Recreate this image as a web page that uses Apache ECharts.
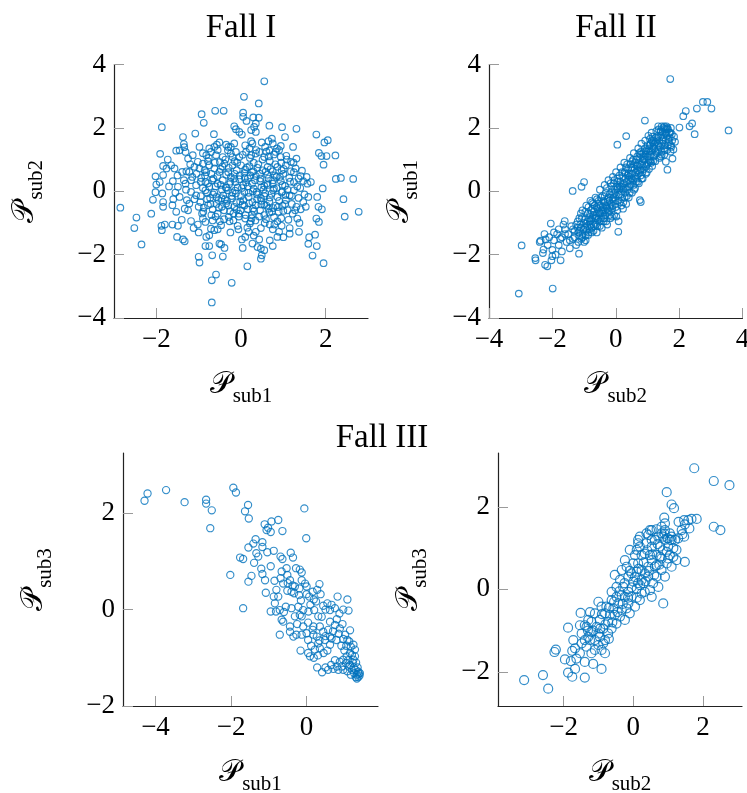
<!DOCTYPE html>
<html>
<head>
<meta charset="utf-8">
<script src="https://cdn.jsdelivr.net/npm/echarts@6/dist/echarts.min.js"></script>
<style>
  html, body { margin: 0; padding: 0; background: #fff; }
  #chart { width: 747px; height: 793px; }
</style>
</head>
<body>
<div id="chart"></div>
<script>
// Fall I: (P_sub1, P_sub2)
const fall1 = [
  [0.55,3.47],[0.07,2.98],[0.42,2.77],
  [-0.61,2.54],[-0.41,2.54],[-0.93,2.43],[0.05,2.48],[0.05,2.35],[0.29,2.33],[0.42,2.32],[-0.88,2.16],[0.13,2.22],[0.35,2.14],[0.31,2.03],
  [-1.87,2.02],[0.67,2.07],[0.97,2.02],[1.31,1.97],[-0.16,2.05],[-0.12,1.96],[-0.04,1.87],[0.02,1.79],[0.24,1.93],[0.35,1.87],[-0.64,1.8],[-1.08,1.82],[-1.37,1.71],[1.78,1.79],[1.04,1.71],[0.73,1.66],[0.65,1.58],
  [-0.51,1.54],[-0.57,1.47],[-0.63,1.4],[-0.35,1.47],[-0.24,1.4],[-0.16,1.51],[0.24,1.58],[0.27,1.51],[0.49,1.54],[0.57,1.4],[0.75,1.51],[0.94,1.43],[1.23,1.4],[-1.35,1.49],[-1.34,1.39],[-0.98,1.4],[-0.75,1.35],[1.97,1.54],[2.05,1.61],[-1.53,1.28],[-1.45,1.29],
  [-1.91,1.18],[-1.73,1.0],[-1.31,1.24],[-1.25,1.03],[-1.14,1.14],[-1.02,0.93],[-0.9,0.87],[-0.82,1.14],[-0.71,1.24],[-0.59,1.14],[-0.43,1.08],[-0.31,1.29],[-0.24,1.19],[-0.12,1.24],[-0.04,1.08],[0.12,1.24],[0.24,1.14],[0.35,1.19],[0.43,1.24],[0.55,1.08],[0.67,1.29],[0.78,1.16],[0.82,1.24],[0.94,1.08],[1.07,1.12],[1.18,0.93],[1.31,1.03],[1.84,1.21],[1.9,1.11],[2.02,1.11],[2.23,1.13],
  [-1.84,0.8],[-1.76,0.72],[-1.57,0.72],[-1.65,0.82],[-1.39,0.61],[-1.29,0.63],[-1.22,0.61],[-1.1,0.77],[-0.98,0.72],[-0.86,0.66],[-0.75,0.82],[-0.63,0.72],[-0.51,0.61],[-0.39,0.87],[-0.29,0.74],[-0.2,0.82],[-0.1,0.66],[0,0.82],[0.1,0.69],[0.2,0.79],[0.29,0.63],[0.39,0.74],[0.51,0.66],[0.63,0.77],[0.75,0.63],[0.86,0.77],[0.96,0.66],[1.06,0.82],[1.18,0.63],[1.29,0.72],[1.41,0.48],[1.95,0.84],[-2.02,0.47],[-1.84,0.51],
  [-2.0,0.21],[-2.02,-0.03],[-1.92,0.29],[-1.61,0.32],[-1.49,0.14],[-1.31,0.24],[-1.18,0.35],[-1.06,0.19],[-0.94,0.42],[-0.84,0.29],[-0.75,0.14],[-0.65,0.4],[-0.55,0.24],[-0.43,0.35],[-0.34,0.11],[-0.24,0.45],[-0.13,0.29],[-0.04,0.38],[0.05,0.19],[0.16,0.4],[0.26,0.24],[0.35,0.48],[0.45,0.32],[0.55,0.17],[0.65,0.4],[0.75,0.24],[0.84,0.45],[0.94,0.32],[1.04,0.17],[1.14,0.42],[1.25,0.29],[1.36,0.4],[1.47,0.32],[1.57,0.24],[1.65,0.29],[2.24,0.39],[2.36,0.42],[2.65,0.39],[1.93,0.09],
  [-2.08,-0.27],[-1.86,-0.07],[-1.84,-0.34],[-1.55,-0.04],[-1.45,-0.18],[-1.28,-0.28],[-1.18,-0.02],[-1.06,-0.13],[-0.96,-0.34],[-0.84,0.03],[-0.73,-0.21],[-0.63,-0.04],[-0.53,-0.28],[-0.42,-0.13],[-0.31,0.03],[-0.21,-0.23],[-0.12,-0.07],[-0.02,-0.32],[0.08,-0.02],[0.18,-0.18],[0.27,-0.34],[0.37,-0.02],[0.47,-0.21],[0.57,-0.07],[0.67,-0.32],[0.76,0.03],[0.86,-0.18],[0.96,-0.04],[1.06,-0.28],[1.15,-0.13],[1.25,0.03],[1.36,-0.21],[1.47,-0.34],[1.59,-0.18],[1.8,-0.18],[2.42,-0.25],
  [-2.12,-0.71],[-1.84,-0.49],[-1.62,-0.44],[-1.53,-0.65],[-1.33,-0.55],[-1.22,-0.39],[-1.0,-0.49],[-0.89,-0.65],[-0.78,-0.44],[-0.67,-0.57],[-0.55,-0.71],[-0.45,-0.49],[-0.35,-0.39],[-0.26,-0.63],[-0.16,-0.49],[-0.05,-0.71],[0.04,-0.42],[0.16,-0.57],[0.26,-0.74],[0.35,-0.44],[0.45,-0.6],[0.55,-0.42],[0.67,-0.67],[0.76,-0.53],[0.89,-0.65],[0.98,-0.46],[1.1,-0.6],[1.22,-0.71],[1.31,-0.49],[1.41,-0.57],[1.53,-0.49],[1.83,-0.49],[1.91,-0.57],[-2.85,-0.52],[2.78,-0.65],
  [-2.47,-0.83],[-2.52,-1.16],[-1.88,-1.09],[-1.8,-1.05],[-1.62,-1.05],[-1.49,-1.09],[-1.18,-0.94],[-1.12,-1.16],[-0.9,-0.86],[-0.84,-0.97],[-0.67,-0.92],[-0.47,-1.07],[-0.29,-0.81],[-0.18,-0.92],[-0.08,-1.09],[0.1,-0.86],[0.21,-1.02],[0.34,-0.92],[0.47,-1.16],[0.59,-0.88],[0.68,-1.05],[0.86,-0.95],[0.96,-1.09],[1.15,-1.16],[1.33,-0.86],[1.78,-0.86],[1.84,-0.97],[2.45,-0.8],
  [-1.87,-1.23],[-1.51,-1.44],[-1.37,-1.52],[-1.33,-1.58],[-0.82,-1.44],[-0.75,-1.39],[-0.63,-1.23],[-0.71,-1.18],[-0.51,-1.65],[0.02,-1.52],[0.1,-1.44],[0.18,-1.28],[0.35,-1.28],[0.43,-1.52],[0.68,-1.55],[0.86,-1.44],[0.9,-1.28],[1.15,-1.34],[1.37,-1.28],[1.61,-1.45],[1.75,-1.37],
  [-2.35,-1.68],[-0.84,-1.73],[-0.75,-1.73],[-0.47,-1.68],[-0.39,-1.79],[0.04,-1.79],[0.27,-1.65],[0.39,-1.76],[0.47,-1.81],[0.55,-1.86],[0.75,-1.73],[1.59,-1.66],[1.79,-1.73],[-0.68,-2.02],[-0.43,-2.06],[-1.0,-2.07],
  [-0.98,-2.25],[0.15,-2.37],[0.47,-2.13],[0.49,-2.02],[1.69,-2.03],[1.95,-2.27],[-0.59,-2.63],[-0.69,-2.81],[-0.22,-2.89],[-0.69,-3.51],
  [-0.85,0.5],[-0.7,0.55],[-0.48,0.7],[-0.35,0.52],[-0.15,0.55],[0.08,0.58],[0.22,0.5],[0.45,0.55],[0.62,0.52],[0.8,0.5],[1.0,0.55],
  [-0.9,0.1],[-0.78,0.25],[-0.6,0.15],[-0.45,0.05],[-0.28,0.22],[-0.08,0.12],[0.12,0.28],[0.3,0.08],[0.48,0.12],[0.62,0.25],[0.78,0.08],[0.98,0.2],[1.1,0.05],
  [-0.95,-0.15],[-0.8,-0.05],[-0.58,-0.18],[-0.38,-0.25],[-0.2,-0.05],[0.0,-0.15],[0.18,-0.05],[0.38,-0.25],[0.55,-0.15],[0.72,-0.08],[0.9,-0.3],[1.05,-0.12],
  [-0.88,-0.52],[-0.72,-0.4],[-0.52,-0.52],[-0.3,-0.45],[-0.1,-0.58],[0.08,-0.45],[0.28,-0.55],[0.48,-0.42],[0.65,-0.55],[0.82,-0.45],[1.0,-0.62],
  [-0.6,-0.8],[-0.4,-0.88],[-0.05,-0.8],[0.25,-0.85],[0.55,-0.75],[0.78,-0.82],[-0.78,0.95],[-0.5,0.92],[-0.15,0.95],[0.3,0.9],[0.68,0.95],[0.95,0.9],
  [-1.15,0.45],[-1.1,-0.25],[1.25,0.6],[1.2,-0.4],[-0.3,1.4],[0.1,1.45],[0.6,1.25],[-0.55,-1.2],[0.15,-1.15],[0.75,-1.2],[-1.3,0.05],[1.4,0.1],
  [-1.2,0.85],[-1.05,0.55],[-0.95,0.3],[-0.92,-0.7],[-0.82,0.6],[-0.8,-0.25],[-0.76,1.05],[-0.7,-0.75],[-0.68,0.35],[-0.66,-0.1],[-0.62,0.9],[-0.58,-0.4],[-0.56,0.48],[-0.5,-0.95],[-0.48,0.2],[-0.46,-0.22],[-0.44,0.78],[-0.4,-0.6],[-0.37,1.0],[-0.36,0.12],
  [-0.33,-0.3],[-0.3,0.6],[-0.27,-0.95],[-0.25,0.3],[-0.22,-0.15],[-0.2,1.08],[-0.18,-0.7],[-0.16,0.4],[-0.14,0.02],[-0.11,-0.35],[-0.09,0.9],[-0.06,-1.2],[-0.03,0.5],[-0.01,-0.6],[0.02,0.1],[0.04,1.15],[0.06,-0.28],[0.09,0.42],[0.11,-0.75],[0.14,0.75],
  [0.16,0.15],[0.19,-0.38],[0.21,1.05],[0.23,-0.95],[0.26,0.6],[0.28,0.0],[0.31,-0.62],[0.33,0.35],[0.36,1.3],[0.38,-0.1],[0.41,0.85],[0.43,-0.8],[0.46,0.4],[0.48,-0.3],[0.51,1.0],[0.53,0.05],[0.56,-1.0],[0.58,0.62],[0.6,-0.45],[0.63,0.2],
  [0.66,1.1],[0.68,-0.2],[0.7,0.7],[0.73,-0.65],[0.76,0.35],[0.79,-1.05],[0.81,0.85],[0.84,0.1],[0.87,-0.5],[0.9,1.3],[0.92,0.45],[0.95,-0.85],[0.98,0.0],[1.01,0.7],[1.04,-0.4],[1.08,1.0],[1.12,-0.9],[1.16,0.3],[1.2,-0.15],[1.24,0.9],
  [1.28,-0.6],[1.33,0.15],[1.38,-1.0],[1.44,0.65],[1.5,-0.1],[1.55,0.45],[-1.25,-0.6],[-1.35,0.35],[-1.4,-0.9],[-1.5,0.5],[-1.6,-0.25],[-1.7,0.15],[-1.02,-1.05],[-0.9,1.2],[-0.55,1.3],[0.2,1.35],[0.85,1.35],[-0.25,-1.3],[0.3,-1.4],[1.0,-1.45],[-1.0,-1.3]
];

// Fall II: (P_sub2, P_sub1)
const fall2 = [
  [1.72,3.54],[2.75,2.82],[2.89,2.82],[2.56,2.61],[3.02,2.61],[2.21,2.53],[2.13,2.37],[2.41,2.14],[2.33,2.05],[2.49,1.8],[3.56,1.92],[2.01,2.01],
  [0.92,2.23],[1.34,2.05],[1.53,2.05],[1.56,1.97],[1.42,1.89],[1.58,1.82],[0.33,1.74],[0.05,1.47],
  [1.16,1.72],[1.84,1.72],[1.87,1.56],[1.74,1.45],[1.82,1.32],[1.79,1.03],[1.63,0.68],[1.58,0.93],
  [-1.36,0.01],[-1.0,0.29],[-1.08,0.14],[-2.97,-1.71],[-3.06,-3.23],[-1.99,-3.07],
  [-2.54,-2.11],[-2.53,-2.18],[-2.23,-2.32],[-2.16,-2.37],[-2.05,-1.02],[-1.61,-0.94],
  [-2.37,-1.56],[-2.21,-1.52],[-2.28,-1.84],[-2.03,-2.18],[-1.74,-2.18],[-1.16,-1.97],
  [0.08,-1.28],[0.79,-0.34],[0.76,-0.28],
  [-2.4,-1.6],[-2.3,-1.95],[-2.15,-1.7],[-2.1,-1.45],[-2.0,-1.85],[-1.95,-1.55],[-1.9,-2.0],[-1.85,-1.35],[-1.8,-1.7],[-1.7,-1.45],[-1.7,-1.9],[-1.6,-1.2],[-1.55,-1.6],[-1.5,-1.35],[-1.45,-1.8],[-1.4,-1.1],[-1.35,-1.5],[-1.3,-1.25],[-1.25,-1.7],[-1.2,-0.95],[-1.15,-1.4],[-1.1,-1.15],[-2.25,-1.35],[-2.0,-2.05],[-1.65,-1.05],
  [-1.95,-1.3],[-1.8,-1.2],[-1.75,-1.5],[-1.6,-1.35],[-1.45,-1.55],[-1.35,-1.2],[-1.3,-1.45],[-1.2,-1.15],[-1.18,-1.6],[-1.05,-1.45],[-0.95,-1.55],
  [-1.18,-1.3],[-1.15,-0.85],[-1.12,-1.05],[-1.08,-1.5],[-1.05,-0.6],[-1.02,-1.2],[-0.98,-0.9],[-0.95,-1.4],[-0.93,-0.45],[-0.9,-1.1],[-0.88,-0.7],[-0.85,-1.3],[-0.82,-0.95],[-0.8,-0.3],[-0.78,-0.6],[-0.76,-1.15],
  [-0.74,-0.85],[-0.72,-0.4],[-0.7,-1.25],[-0.68,-0.65],[-0.66,-1.0],[-0.64,-0.2],[-0.62,-0.78],[-0.6,-0.5],[-0.58,-1.1],[-0.56,-0.9],[-0.54,-0.3],[-0.52,-0.65],[-0.5,0.05],[-0.48,-0.45],[-0.46,-0.85],[-0.44,-1.15],[-0.42,-0.15],[-0.4,-0.6],
  [-0.38,-0.95],[-0.37,-0.35],[-0.35,0.2],[-0.33,-0.75],[-0.31,-0.05],[-0.29,-0.5],[-0.27,-1.05],[-0.25,-0.25],[-0.23,0.35],[-0.21,-0.65],[-0.19,-0.1],[-0.17,-0.85],[-0.15,-0.4],[-0.13,0.15],[-0.11,-0.55],[-0.09,0.45],[-0.07,-0.2],[-0.05,-0.75],[-0.03,0.05],[-0.01,-0.4],
  [0.01,0.6],[0.03,-0.15],[0.05,-0.6],[0.07,0.3],[0.09,-0.95],[0.11,0.05],[0.13,-0.35],[0.15,0.75],[0.17,0.15],[0.19,-0.2],[0.21,0.45],[0.23,-0.55],[0.25,0.25],[0.27,0.9],[0.29,-0.05],[0.31,0.55],[0.33,-0.4],[0.35,0.3],[0.37,0.05],[0.39,0.7],
  [0.41,-0.2],[0.43,0.45],[0.45,1.05],[0.47,0.2],[0.49,0.75],[0.51,-0.05],[0.53,0.55],[0.55,0.35],[0.57,1.2],[0.59,0.85],[0.61,0.1],[0.63,0.6],[0.65,1.0],[0.67,0.4],[0.69,0.8],[0.71,1.35],[0.73,0.25],[0.75,0.65],[0.77,1.05],[0.79,0.5],
  [0.81,1.5],[0.83,0.85],[0.85,0.4],[0.87,1.2],[0.89,0.7],[0.91,1.0],[0.93,1.6],[0.95,0.55],[0.97,1.3],[0.99,0.85],[1.01,1.1],[1.03,1.75],[1.05,0.7],[1.07,1.45],[1.09,0.95],[1.11,1.25],[1.13,1.85],[1.15,0.8],[1.17,1.55],[1.19,1.1],
  [1.22,1.35],[1.25,0.95],[1.27,1.7],[1.3,1.2],[1.32,1.5],[1.35,1.95],[1.38,1.05],[1.4,1.4],[1.43,1.75],[1.45,1.25],[1.48,1.6],[1.5,2.0],[1.53,1.15],[1.55,1.45],[1.6,1.75],[1.62,1.3],[1.65,1.95],[1.68,1.55],[1.72,1.85],[1.75,1.4],
  [-1.1,-0.7],[-1.0,-1.0],[-0.96,-0.65],[-0.92,-1.25],[-0.86,-0.5],[-0.84,-0.85],[-0.79,-1.05],[-0.75,-0.35],[-0.71,-0.75],[-0.67,-0.45],[-0.63,-1.05],[-0.59,-0.25],[-0.55,-0.7],[-0.51,-0.95],[-0.47,-0.2],[-0.43,-0.7],[-0.39,-0.3],[-0.36,-0.85],[-0.32,-0.45],[-0.28,0.1],[-0.24,-0.6],[-0.2,-0.3],[-0.16,0.25],[-0.12,-0.8],[-0.08,-0.1],[-0.04,0.35],[0.0,-0.5],[0.04,0.15],[0.08,-0.3],[0.12,0.5],[0.16,-0.1],[0.2,0.2],[0.24,-0.35],[0.28,0.6],[0.32,0.1],[0.36,0.85],[0.4,0.35],[0.44,-0.05],[0.48,0.55],[0.52,0.95],[0.56,0.2],[0.6,0.7],[0.64,0.3],[0.68,1.1],[0.72,0.55],[0.76,0.85],[0.8,1.25],[0.84,0.6],[0.88,1.0],[0.92,1.35],[0.96,0.8],[1.0,1.45],[1.04,1.0],[1.08,1.65],[1.12,0.9],[1.16,1.3],[1.2,1.6],[1.24,1.15],[1.28,1.9],[1.33,1.3],[1.37,1.6],[1.42,1.1],[1.47,1.85],[1.52,1.35],[1.58,1.6],[1.63,2.0],[1.7,1.7],[1.78,1.6],
  [-1.05,-1.35],[-0.97,-1.15],[-0.89,-0.95],[-0.83,-1.2],[-0.77,-0.9],[-0.69,-1.1],[-0.61,-0.85],[-0.57,-0.55],[-0.49,-0.7],[-0.41,-0.5],[-0.34,-0.6],[-0.26,-0.35],[-0.18,-0.5],[-0.1,-0.25],[-0.02,-0.05],[0.06,0.1],[0.14,0.3],[0.22,0.05],[0.3,0.4],[0.38,0.5],[0.46,0.3],[0.54,0.75],[0.62,0.9],[0.7,0.65],[0.78,1.15],[0.86,0.95],[0.94,1.15],[1.02,1.25],[1.1,1.5],[1.18,1.4],[1.26,1.55],[1.34,1.75],[1.46,1.5],[1.56,1.85],[1.66,1.65],[1.74,2.0],
  [-1.25,-1.05],[-1.15,-1.25],[-1.07,-0.85],[-1.0,-1.6],[-0.94,-1.02],[-0.87,-1.38],[-0.81,-0.72],[-0.76,-1.3],[-0.73,-0.55],[-0.65,-0.85],[-0.6,-1.3],[-0.53,-0.4],[-0.5,-1.1],[-0.45,-0.6],[-0.4,-0.85],[-0.35,-0.15],[-0.3,-0.95],[-0.27,-0.55],[-0.22,-0.2],[-0.19,-0.75],
  [-0.14,0.0],[-0.1,-0.45],[-0.06,0.25],[-0.02,-0.3],[0.02,-0.8],[0.05,0.4],[0.1,-0.1],[0.13,0.15],[0.18,-0.45],[0.2,0.6],[0.25,0.1],[0.28,-0.2],[0.32,0.75],[0.35,-0.15],[0.4,0.55],[0.42,0.15],[0.46,0.85],[0.5,0.4],[0.55,1.0],[0.58,0.05],
  [0.62,0.45],[0.66,0.8],[0.7,0.3],[0.74,1.2],[0.78,0.7],[0.82,0.4],[0.86,1.1],[0.9,0.85],[0.95,1.25],[0.98,0.6],[1.03,0.9],[1.06,1.35],[1.1,1.15],[1.14,1.6],[1.18,0.95],[1.22,1.5],[1.26,1.25],[1.31,1.65],[1.36,1.45],[1.41,1.9],
  [1.45,1.15],[1.5,1.7],[1.55,1.3],[1.6,1.95],[1.64,1.45],[1.69,1.85],[1.73,1.25],[1.77,1.8],[1.6,2.05],[1.45,2.05]
];

// Fall III, left panel: (P_sub1, P_sub3)
const fall3Left = [
  [-4.29,2.26],[-4.21,2.41],[-3.72,2.48],[-3.23,2.23],[-2.66,2.28],[-2.66,2.2],[-2.51,2.06],[-2.55,1.69],
  [-1.94,2.53],[-1.87,2.43],[-1.55,2.17],[-1.63,2.04],[-1.53,1.89],[-0.06,2.1],[-0.01,1.48],
  [-1.11,1.77],[-1.02,1.7],[-1.06,1.65],[-0.95,1.61],[-0.93,1.83],[-0.75,1.86],[-0.64,1.63],
  [-1.35,1.46],[-1.41,1.37],[-1.54,1.29],[-1.17,1.4],[-1.17,1.3],[-1.33,1.17],[-1.28,1.1],[-1.39,0.97],[-1.76,1.08],[-1.68,1.05],[-1.04,1.19],[-0.87,1.22],
  [-2.02,0.72],[-1.54,0.58],[-1.46,0.7],[-1.68,0.03],[-1.17,0.74],[-1.1,0.61],[-1.08,0.35],
  [-0.69,1.1],[-0.64,1.05],[-0.42,1.18],[-0.36,1.08],[-0.28,0.86],[-0.18,0.83],[-0.13,0.77],
  [-0.66,0.79],[-0.69,0.65],[-0.62,0.54],[-0.53,0.86],[-0.51,0.72],[-0.37,0.5],[-0.51,0.39],
  [-0.8,0.41],[-0.75,0.27],[-0.84,0.13],[-0.95,-0.04],[-0.71,-0.01],[-0.66,-0.21],[-0.71,-0.52],[-0.44,-0.35],[-0.55,0.06],[-0.33,0.34],[-0.04,0.54],[-0.15,0.19],[0,0.32],[0.05,-0.04],
  [0.34,0.53],[0.28,0.41],[0.37,0.32],[0.25,0.17],[0.2,-0.01],[0.31,-0.14],[0.44,0.08],[0.55,0.13],[0.66,0.1],[0.62,-0.01],[0.75,0.03],[0.87,-0.08],[1.08,0.21],[1.11,-0.02],[0.82,0.27],[0.97,0],
  [-0.31,-0.14],[-0.13,-0.14],[0.04,-0.27],[-0.09,-0.35],[-0.27,-0.52],[-0.13,-0.52],[0,-0.49],[0.18,-0.35],[0.18,-0.52],[0.35,-0.35],[0.44,-0.46],[0.57,-0.42],[0.62,-0.56],[0.49,-0.63],[0.31,-0.7],[0.22,-0.83],[0.35,-0.8],[0.62,-0.73],[0.79,-0.63],[0.97,-0.61],[1.15,-0.43],
  [-0.16,-0.85],[0.04,-0.9],[0.09,-0.97],[0.19,-1.0],[0.28,-1.2],[0.41,-1.3],[0.57,-1.25],[0.71,-1.23],[0.84,-1.25],[0.93,-1.18],[0.97,-1.04],[1.06,-0.97],[1.13,-0.66],[1.17,-0.77],[1.2,-0.94],[1.28,-0.97],[1.04,-1.11],[1.11,-1.18],[1.2,-1.25],[1.26,-1.32],[1.33,-1.35],[1.37,-1.4],[1.41,-1.32],[1.31,-1.1],[1.24,-1.04],[1.33,-1.43],[0.88,-1.08],[0.8,-1.18],
  [-0.87,0.27],[-0.81,-0.04],[-0.62,-0.25],[-0.44,-0.46],[-0.35,-0.56],[0.27,-0.56],[0.34,-0.64],[0.04,-0.63],[0.16,-0.42],
  [0.62,-0.25],[0.75,-0.32],[0.88,-0.39],[1.02,-0.52],[1.08,-0.63],[1.24,-0.73],[1.28,-0.83],[1.15,-0.9],[0.97,-1.25],[1.08,-1.28],[1.17,-1.35],[1.37,-1.29],[1.4,-1.37],
  [-0.13,0.61],[-0.19,0.44],[0,0.48],[0.16,0.37],[0.07,0.27],[0.19,0.21],
  [-0.4,0.37],[-0.31,0.48],[-0.44,0.61],[-0.22,0.06],[-0.4,0.03],[-0.09,-0.01],[-0.18,-0.11],
  [0.5,-0.55],[0.66,-0.6],[0.7,-0.45],[0.85,-0.5],[0.92,-0.75],[1.0,-0.85],[1.05,-0.75],[1.1,-1.05],[1.15,-1.15],[1.22,-1.1],[1.25,-1.2],[1.3,-1.25],[1.35,-1.2],[1.38,-1.33],[1.3,-1.4],
  [0.75,-1.05],[0.65,-1.15],[0.5,-1.2],[0.45,-0.9],[0.55,-0.85],[0.3,-0.95],[0.12,-0.75],[0.4,-0.15],[0.5,0.0],[0.8,-0.2],[0.95,-0.3],[-0.2,0.3],[-0.5,0.55],[-0.85,0.6],[-0.95,0.9],[-1.2,0.85],[-0.6,-0.05],[-0.25,-0.3],[0.1,0.1]
];

// Fall III, right panel: (P_sub2, P_sub3)
const fall3Right = [
  [1.75,2.94],[2.31,2.63],[2.76,2.53],[0.96,2.36],[1.1,2.06],[1.17,1.97],[0.89,1.74],
  [1.3,1.64],[1.46,1.68],[1.58,1.68],[1.67,1.71],[1.82,1.71],[1.48,1.58],[1.61,1.48],[1.41,1.34],[1.46,1.28],
  [2.31,1.52],[2.5,1.44],[1.48,0.67],[0.86,-0.34],
  [-3.13,-2.2],[-2.59,-2.08],[-2.44,-2.41],[-1.87,-0.93],[-2.22,-1.46],[-2.26,-1.52],
  [-1.87,-2.02],[-1.75,-2.12],[-1.67,-1.93],[-1.39,-2.14],[-0.91,-1.93],[-1.15,-1.81],
  [-1.51,-0.57],[-1.24,-0.55],[-1.96,-1.7],[-1.79,-1.74],
  [-1.72,-1.23],[-1.67,-1.43],[-1.75,-1.49],[-1.48,-1.31],[-1.39,-1.23],[-1.29,-1.15],[-1.34,-0.91],[-1.2,-1.03],[-1.1,-1.23],[-1.0,-1.35],[-0.91,-1.47],[-0.86,-1.31],[-1.0,-1.07],[-0.81,-1.23],[-1.2,-1.55],
  [-1.0,-0.3],[-0.91,-0.42],[-0.81,-0.58],[-0.96,-0.74],[-0.72,-0.79],[-0.67,-0.62],[-0.57,-0.46],[-0.62,-0.26],[-0.48,-0.18],[-0.43,-0.34],[-0.33,-0.5],[-0.38,-0.66],[-0.48,-0.83],[-0.62,-0.95],[-0.72,-1.07],
  [-0.24,-0.18],[-0.14,-0.06],[-0.29,0.06],[-0.38,0.23],[-0.53,0.35],[-0.33,0.47],[-0.05,0.39],[0,0.19],[0.1,0.02],[0.24,-0.1],[0.19,-0.26],[0.05,-0.42],[-0.1,-0.58],[-0.24,-0.74],
  [0.24,0.23],[0.33,0.39],[0.43,0.55],[0.53,0.71],[0.14,0.63],[0.33,0.87],[0.53,1.04],[0.62,1.2],[0.72,1.28],[0.81,1.36],[0.91,1.2],[1.0,1.04],[1.05,0.83],[0.96,0.63],[0.81,0.47],[0.67,0.31],[0.57,0.15],[0.48,-0.02],[0.72,0.06],[0.91,0.31],[1.1,0.55],[1.24,0.71],
  [1.1,1.2],[1.05,1.36],[0.91,1.44],[0.53,1.44],[0.43,1.32],[0.14,1.2],[0.19,1.04],[0.24,0.83],[0.05,0.83],[0,0.63],[-0.19,0.55],[-0.24,0.71],[-0.1,0.96],[0.14,1.12],[0.38,1.12],[0.77,1.04],[0.67,0.83],[0.53,1.2],[0.77,0.79],[0.62,0.55],[0.43,0.31],[0.29,0.15],[0.1,0.43],
  [0.48,1.44],[0.67,1.46],[0.86,1.28],[0.99,1.24],[1.1,1.28],
  [-1.1,-0.58],[-1.2,-0.79],[-1.29,-0.74],[-1.39,-0.87],[-1.48,-1.07],[-1.53,-0.87],[-1.05,-0.91],[-0.86,-0.95],[-0.96,-1.15],[-0.81,-1.55],[-1.1,-1.47],[-1.34,-1.39],[-1.53,-1.55],[-1.63,-1.68],[-1.39,-1.76],[-1.24,-1.23],
  [-0.62,-0.06],[-0.48,0.06],[-0.33,-0.14],[-0.77,-0.42],[-0.53,-0.62],[-0.14,-0.34],[-0.05,-0.18],[-0.19,-0.46],[0.14,0.15],[0.33,-0.06],[0.53,-0.18],
  [-0.14,0.31],[0.24,0.47],[0.48,0.83],[0.67,0.59],[0.81,0.75],[0.96,0.91],[1.15,1.0],[1.2,1.2],[1.39,1.44],[1.29,1.24],[0.91,1.6],[0.81,1.52],[0.38,1.36],[0.19,1.28],[0.1,0.96],[1.15,0.79],[1.24,0.96],
  [-0.9,-0.6],[-0.8,-0.85],[-0.7,-0.45],[-0.6,-0.8],[-0.55,-0.3],[-0.45,-0.55],[-0.4,-0.05],[-0.3,-0.35],[-0.25,0.15],[-0.15,-0.2],[-0.1,0.45],[-0.05,0.05],[0.05,0.3],[0.1,-0.2],[0.15,0.5],[0.2,0.1],
  [0.3,0.65],[0.35,0.2],[0.4,0.95],[0.45,0.45],[0.55,0.85],[0.6,0.35],[0.7,1.1],[0.75,0.6],[0.85,0.95],[0.9,1.35],[1.0,0.75],[1.05,1.2],[-1.15,-1.0],[-0.95,-0.95],[-1.3,-1.0],[-0.7,-1.2]
];

// Tick positions of each panel
const ticksFall1X = [-2, 0, 2];
const ticksFall1Y = [-4, -2, 0, 2, 4];
const ticksFall2X = [-4, -2, 0, 2, 4];
const ticksFall2Y = [-4, -2, 0, 2, 4];
const ticksFall3LX = [-4, -2, 0];
const ticksFall3LY = [-2, 0, 2];
const ticksFall3RX = [-2, 0, 2];
const ticksFall3RY = [-2, 0, 2];

const titles = ['Fall I', 'Fall II', 'Fall III'];

const SERIF = "'Liberation Serif', 'DejaVu Serif', serif";
const BLUE = '#0072BD';

function tickText(v) {
  return v < 0 ? '\u2212' + Math.abs(v) : String(v);
}

function axisTitle(sub) {
  return '{p|\uD835\uDCAB}{s|' + sub + '}';
}

const nameRich = {
  p: { fontFamily: SERIF, fontSize: 30, color: '#000', lineHeight: 34, verticalAlign: 'top' },
  s: { fontFamily: SERIF, fontSize: 21, color: '#000', lineHeight: 21, verticalAlign: 'top', padding: [16, 0, 0, 1] }
};

function makeAxis(idx, min, max, ticks, name, nameGap) {
  return {
    type: 'value',
    gridIndex: idx,
    min: min,
    max: max,
    name: name,
    nameLocation: 'middle',
    nameGap: nameGap,
    nameTextStyle: { rich: nameRich },
    splitLine: { show: false },
    axisLine: { show: true, onZero: false, lineStyle: { color: '#222', width: 1.2 } },
    axisTick: { show: true, inside: true, length: 10, customValues: ticks, lineStyle: { color: '#9a9a9a', width: 1 } },
    axisLabel: {
      show: true, customValues: ticks, formatter: tickText, margin: 8,
      fontFamily: SERIF, fontSize: 27, color: '#000'
    }
  };
}

function scatter(idx, data, size, width) {
  return {
    type: 'scatter',
    xAxisIndex: idx,
    yAxisIndex: idx,
    data: data,
    symbol: 'circle',
    symbolSize: size,
    itemStyle: { color: 'rgba(0,0,0,0)', borderColor: BLUE, borderWidth: width },
    emphasis: { disabled: true },
    silent: true
  };
}

const chart = echarts.init(document.getElementById('chart'), null, { renderer: 'canvas' });

chart.setOption({
  animation: false,
  backgroundColor: '#fff',
  grid: [
    { left: 114, top: 64.5, width: 254, height: 253.5, outerBoundsMode: 'none' },
    { left: 489, top: 64.5, width: 253.5, height: 253.5, outerBoundsMode: 'none' },
    { left: 123, top: 453, width: 255, height: 253, outerBoundsMode: 'none' },
    { left: 498, top: 453, width: 244, height: 253, outerBoundsMode: 'none' }
  ],
  xAxis: [
    makeAxis(0, -3, 3, ticksFall1X, axisTitle('sub1'), 52),
    makeAxis(1, -4, 4, ticksFall2X, axisTitle('sub2'), 52),
    makeAxis(2, -4.86, 1.89, ticksFall3LX, axisTitle('sub1'), 52),
    makeAxis(3, -3.88, 3.12, ticksFall3RX, axisTitle('sub2'), 52)
  ],
  yAxis: [
    makeAxis(0, -4, 4, ticksFall1Y, axisTitle('sub2'), 70),
    makeAxis(1, -4, 4, ticksFall2Y, axisTitle('sub1'), 70),
    makeAxis(2, -2, 3.25, ticksFall3LY, axisTitle('sub3'), 70),
    makeAxis(3, -2.83, 3.31, ticksFall3RY, axisTitle('sub3'), 70)
  ],
  series: [
    scatter(0, fall1, 6.6, 1.15),
    scatter(1, fall2, 6.6, 1.15),
    scatter(2, fall3Left, 7.2, 1.15),
    scatter(3, fall3Right, 9, 1.2)
  ],
  graphic: [
    { type: 'text', x: 241, y: 28, style: { text: titles[0], fontFamily: SERIF, fontSize: 33, fill: '#000', align: 'center', verticalAlign: 'middle' } },
    { type: 'text', x: 616, y: 28, style: { text: titles[1], fontFamily: SERIF, fontSize: 33, fill: '#000', align: 'center', verticalAlign: 'middle' } },
    { type: 'text', x: 382, y: 438, style: { text: titles[2], fontFamily: SERIF, fontSize: 33, fill: '#000', align: 'center', verticalAlign: 'middle' } }
  ]
});
</script>
</body>
</html>
